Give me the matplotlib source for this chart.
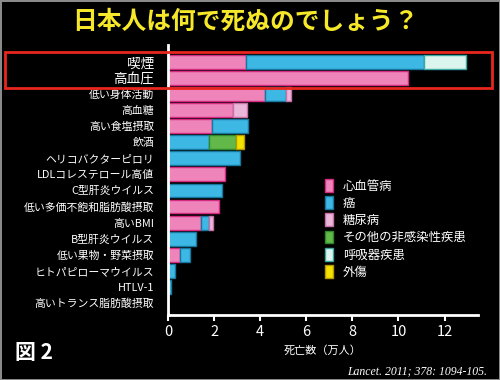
import numpy as np
import matplotlib
matplotlib.use("Agg")
import matplotlib.pyplot as plt
from matplotlib.patches import Rectangle

plt.rcParams['font.family'] = ['Noto Sans CJK JP', 'DejaVu Sans']

# risk factors (top to bottom)
factors = ["喫煙", "高血圧", "低い身体活動", "高血糖", "高い食塩摂取", "飲酒",
           "ヘリコバクターピロリ", "LDLコレステロール高値", "C型肝炎ウイルス",
           "低い多価不飽和脂肪酸摂取", "高いBMI", "B型肝炎ウイルス",
           "低い果物・野菜摂取", "ヒトパピローマウイルス", "HTLV-1",
           "高いトランス脂肪酸摂取"]

# deaths (10,000 persons) by cause
cvd         = [3.40, 10.42, 4.23, 2.80, 1.89, 0.00, 0.00, 2.49, 0.00, 2.23, 1.42, 0.00, 0.52, 0.00, 0.00, 0.00]
cancer      = [7.69, 0.00, 0.90, 0.00, 1.56, 1.76, 3.12, 0.00, 2.36, 0.00, 0.34, 1.21, 0.45, 0.29, 0.15, 0.00]
diabetes    = [0.00, 0.00, 0.19, 0.64, 0.00, 0.00, 0.00, 0.00, 0.00, 0.00, 0.19, 0.00, 0.00, 0.00, 0.00, 0.00]
other_ncd   = [0.00, 0.00, 0.00, 0.00, 0.00, 1.17, 0.00, 0.00, 0.00, 0.00, 0.00, 0.00, 0.00, 0.00, 0.00, 0.00]
respiratory = [1.82, 0.00, 0.00, 0.00, 0.00, 0.00, 0.00, 0.00, 0.00, 0.00, 0.00, 0.00, 0.00, 0.00, 0.00, 0.00]
injury      = [0.00, 0.00, 0.00, 0.00, 0.00, 0.38, 0.00, 0.00, 0.00, 0.00, 0.00, 0.00, 0.00, 0.00, 0.00, 0.00]

series = [
    ("心血管病", cvd, "#ee84ba", "#d42a80"),
    ("癌", cancer, "#3db7e4", "#16789e"),
    ("糖尿病", diabetes, "#eab6da", "#c870a8"),
    ("その他の非感染性疾患", other_ncd, "#62b848", "#2f8a2a"),
    ("呼吸器疾患", respiratory, "#dcf4ee", "#3aa8a0"),
    ("外傷", injury, "#f2e200", "#b89a00"),
]

fig = plt.figure(figsize=(5, 3.8), dpi=100, facecolor="black",
                 edgecolor="#8a8a8a", linewidth=2)
ax = fig.add_axes([0.336, 0.171, 0.62, 0.711], facecolor="black")

y = np.arange(len(factors))
left = np.zeros(len(factors))
handles = []
for name, vals, fc, ec in series:
    vals = np.array(vals)
    # skip zero-width segments so no stray edge lines appear
    mask = vals > 0
    ax.barh(y[mask], vals[mask], left=left[mask], height=0.86, color=fc,
            edgecolor=ec, linewidth=1.0)
    handles.append(Rectangle((0, 0), 1, 1, facecolor=fc, edgecolor=ec,
                             linewidth=1.0, label=name))
    left += vals

ax.set_ylim(15.75, -1.06)
ax.set_xlim(0, 13.45)
ax.set_xticks([0, 2, 4, 6, 8, 10, 12])
ax.set_yticks(y)
ax.set_yticklabels(factors, color="white", fontsize=7.8)
for lab in ax.get_yticklabels()[:2]:
    lab.set_fontsize(9.8)
ax.tick_params(axis="y", length=0, pad=10)
ax.tick_params(axis="x", colors="white", labelsize=10.5, width=1.5, length=4, pad=3)
for s in ["top", "right"]:
    ax.spines[s].set_visible(False)
for s in ["left", "bottom"]:
    ax.spines[s].set_color("white")
    ax.spines[s].set_linewidth(2)
ax.set_xlabel("死亡数（万人）", color="white", fontsize=8, labelpad=5)

leg = ax.legend(handles=handles, loc="upper left",
                bbox_to_anchor=(325 / 500, 1 - 179 / 380),
                bbox_transform=fig.transFigure, frameon=False,
                fontsize=8.9, handlelength=0.65, handleheight=1.2,
                labelspacing=0.3, handletextpad=0.8, borderpad=0,
                borderaxespad=0)
for t in leg.get_texts():
    t.set_color("white")

fig.text(0.49, 0.943, "日本人は何で死ぬのでしょう？", color="#f5e82a",
         fontsize=17.8, fontweight="bold", ha="center", va="center")

fig.patches.append(Rectangle((0.01, 1 - 88 / 380), 0.974, 36 / 380,
                             transform=fig.transFigure, fill=False,
                             edgecolor="#e8261e", linewidth=2))

fig.text(0.03, 0.073, "図 2", color="white", fontsize=15, fontweight="bold",
         ha="left", va="center")
fig.text(0.975, 0.022, "Lancet. 2011; 378: 1094-105.", color="white",
         fontsize=8.5, family="Liberation Serif", style="italic",
         ha="right", va="center")

fig.savefig("out.png", dpi=100, facecolor=fig.get_facecolor(),
            edgecolor=fig.get_edgecolor())
